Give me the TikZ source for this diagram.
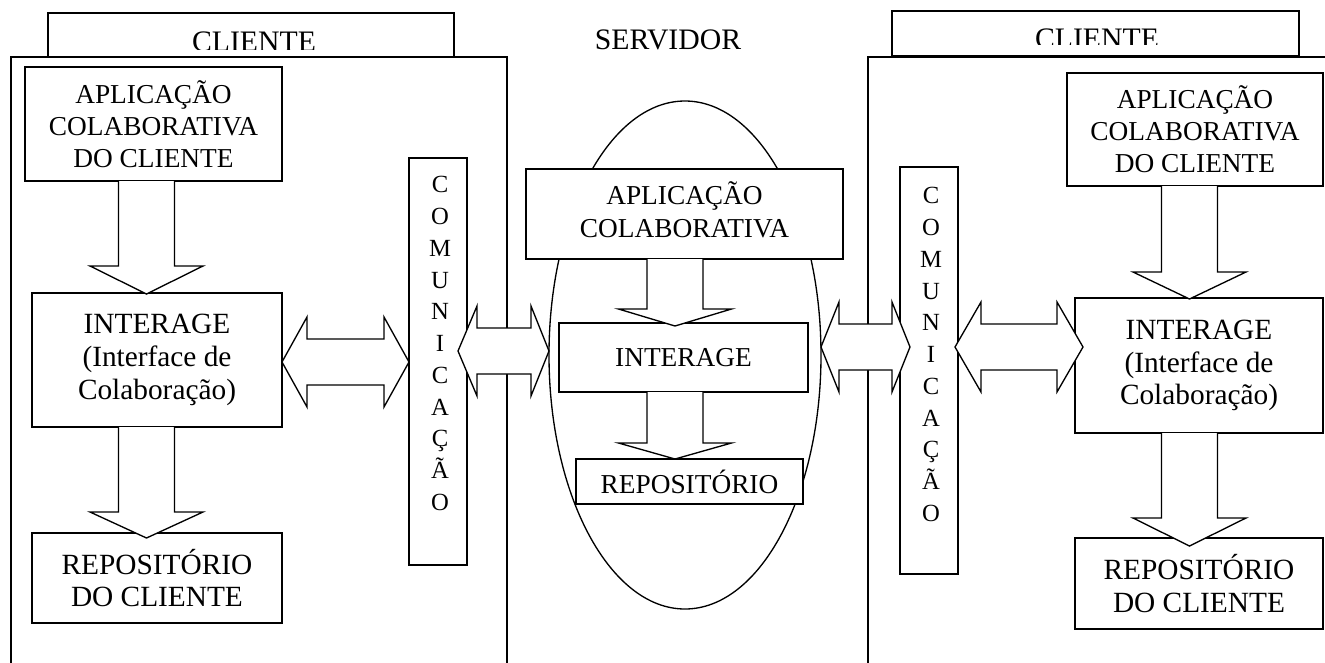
\documentclass[tikz,border=0pt]{standalone}
\usepackage{fontspec}
\setmainfont{Liberation Serif}
\usetikzlibrary{calc,shapes.geometric}

% size of a box given in drawing units
\tikzset{
  wh/.style 2 args={minimum width=#1*0.75pt, minimum height=#2*0.75pt},
  bigframe/.style={draw, line width=1.3pt, fill=white, inner sep=0pt, outer sep=0pt},
  labelbox/.style={draw, line width=1pt, fill=white, inner sep=0pt, outer sep=0pt},
  txtbox/.style={draw, line width=1pt, fill=white, inner sep=0pt, outer sep=0pt,
    align=center, font=\fontsize{20.5pt}{24pt}\selectfont},
  widetext/.style={font=\fontsize{22pt}{24.5pt}\selectfont},
  commbox/.style={draw, line width=1pt, fill=white, inner sep=0pt, outer sep=0pt},
  commtext/.style={inner sep=0pt, align=center, anchor=north,
    font=\fontsize{18.5pt}{23.8pt}\selectfont},
  headtext/.style={inner sep=0pt, anchor=base, font=\fontsize{22.3pt}{24pt}\selectfont},
  blockarrow/.style={draw, line width=1pt, fill=white, line join=miter},
}

% hollow block arrow pointing down: from node, to node, centre line, head length, overlap
\newcommand\downblock[5]{%
  \draw[blockarrow] ($(#1.south -| #3)+(-28,0)$) -- ($(#2.north -| #3)+(-28,#5-#4)$)
    -- ++(-28.5,0) -- ($(#2.north -| #3)+(0,#5)$) -- ($(#2.north -| #3)+(56.5,#5-#4)$)
    -- ++(-28.5,0) -- ($(#1.south -| #3)+(28,0)$);}

% hollow double-headed block arrow between two tips on one row
\newcommand\hdouble[4]{%
  \draw[blockarrow] (#1) -- ++(#3,-45) -- ++(0,22) -- ($(#2)+(-#4,-23)$) -- ++(0,-22)
    -- (#2) -- ++(-#4,45) -- ++(0,-22) -- ($(#1)+(#3,23)$) -- ++(0,22) -- cycle;}

\begin{document}
\begin{tikzpicture}[x=0.75pt, y=-0.75pt]
\useasboundingbox (0,0) rectangle (1325,662);
\clip (0,0) rectangle (1325,662);

% title tabs
\node[labelbox, wh={406}{44}] (lbl_l) at (251,35) {};
\node[labelbox, wh={407}{45}] (lbl_r) at (1095.5,33.5) {};
\begin{scope}
  \clip (48,0) rectangle (454,49.5);
  \node[headtext] (cl_l) at (254,51) {CLIENTE};
\end{scope}
\begin{scope}
  \clip (892,0) rectangle (1299,44);
  \node[headtext] (cl_r) at (1097,48) {CLIENTE};
\end{scope}
\node[headtext] (srv) at (668,49) {SERVIDOR};

% client frames
\node[bigframe, wh={496}{650}] (big_l) at (259,382) {};
\node[bigframe, wh={480}{650}] (big_r) at (1108,382) {};

% server
\node[draw, ellipse, line width=1pt, inner sep=0pt, outer sep=0pt, wh={272}{508}] (ell) at (685,355) {};

% communication columns
\node[commbox, wh={58}{407}] (comm_l) at (438,361.5) {};
\node[commtext] (comm_l_t) at ($(comm_l.north)+(2,18.3)$) {C\\O\\M\\U\\N\\I\\C\\A\\Ç\\Ã\\O};
\node[commbox, wh={58}{407}] (comm_r) at (929,370.5) {};
\node[commtext] (comm_r_t) at ($(comm_r.north)+(2,20.3)$) {C\\O\\M\\U\\N\\I\\C\\A\\Ç\\Ã\\O};

% left client
\node[txtbox, wh={257}{114}] (app_l) at (153.5,124) {APLICAÇÃO\\COLABORATIVA\\DO CLIENTE};
\node[txtbox, widetext, wh={250}{134}] (int_l) at (157,360) {INTERAGE\\(Interface de\\Colaboração)};
\node[txtbox, widetext, wh={250}{90}] (rep_l) at (157,578) {REPOSITÓRIO\\DO CLIENTE};

% server boxes
\node[txtbox, wh={317}{90}] (app_s) at (684.5,214) {APLICAÇÃO\\[0.8pt]COLABORATIVA\\[-17pt]\mbox{}};
\node[txtbox, wh={249}{69}] (int_s) at (683.5,357.5) {INTERAGE};
\node[txtbox, wh={227}{45}] (rep_s) at (689.5,481.5) {REPOSITÓRIO};

% right client
\node[txtbox, wh={256}{113}] (app_r) at (1195,129.5) {APLICAÇÃO\\COLABORATIVA\\DO CLIENTE};
\node[txtbox, widetext, wh={248}{135}] (int_r) at (1199,365.5) {INTERAGE\\(Interface de\\Colaboração)};
\node[txtbox, widetext, wh={248}{91}] (rep_r) at (1199,583.5) {REPOSITÓRIO\\DO CLIENTE};

% arrow centre lines and rows
\coordinate (xl) at (146.5,0);
\coordinate (xs) at (675,0);
\coordinate (xr) at (1189.5,0);
\coordinate (rowL) at (0,362);
\coordinate (rowM) at (0,351);
\coordinate (rowR) at (0,347);

% vertical flow
\downblock{app_l}{int_l}{xl}{28}{1}
\downblock{int_l}{rep_l}{xl}{26}{5}
\downblock{app_s}{int_s}{xs}{17}{3}
\downblock{int_s}{rep_s}{xs}{16}{0}
\downblock{app_r}{int_r}{xr}{27}{1}
\downblock{int_r}{rep_r}{xr}{28}{8}

% exchanges through the communication layers
\coordinate (a1l) at (int_l.east |- rowL);
\coordinate (a1r) at (comm_l.west |- rowL);
\coordinate (a2l) at ($(comm_l.east |- rowM)+(-9,0)$);
\coordinate (a2r) at (ell.west |- rowM);
\coordinate (a3l) at (ell.east |- rowR);
\coordinate (a3r) at ($(comm_r.west |- rowR)+(10,0)$);
\coordinate (a4l) at ($(comm_r.east |- rowR)+(-3,0)$);
\coordinate (a4r) at ($(int_r.west |- rowR)+(8,0)$);
\hdouble{a1l}{a1r}{25}{25}
\hdouble{a2l}{a2r}{19}{18}
\hdouble{a3l}{a3r}{18}{18}
\hdouble{a4l}{a4r}{26}{26}
\end{tikzpicture}
\end{document}
